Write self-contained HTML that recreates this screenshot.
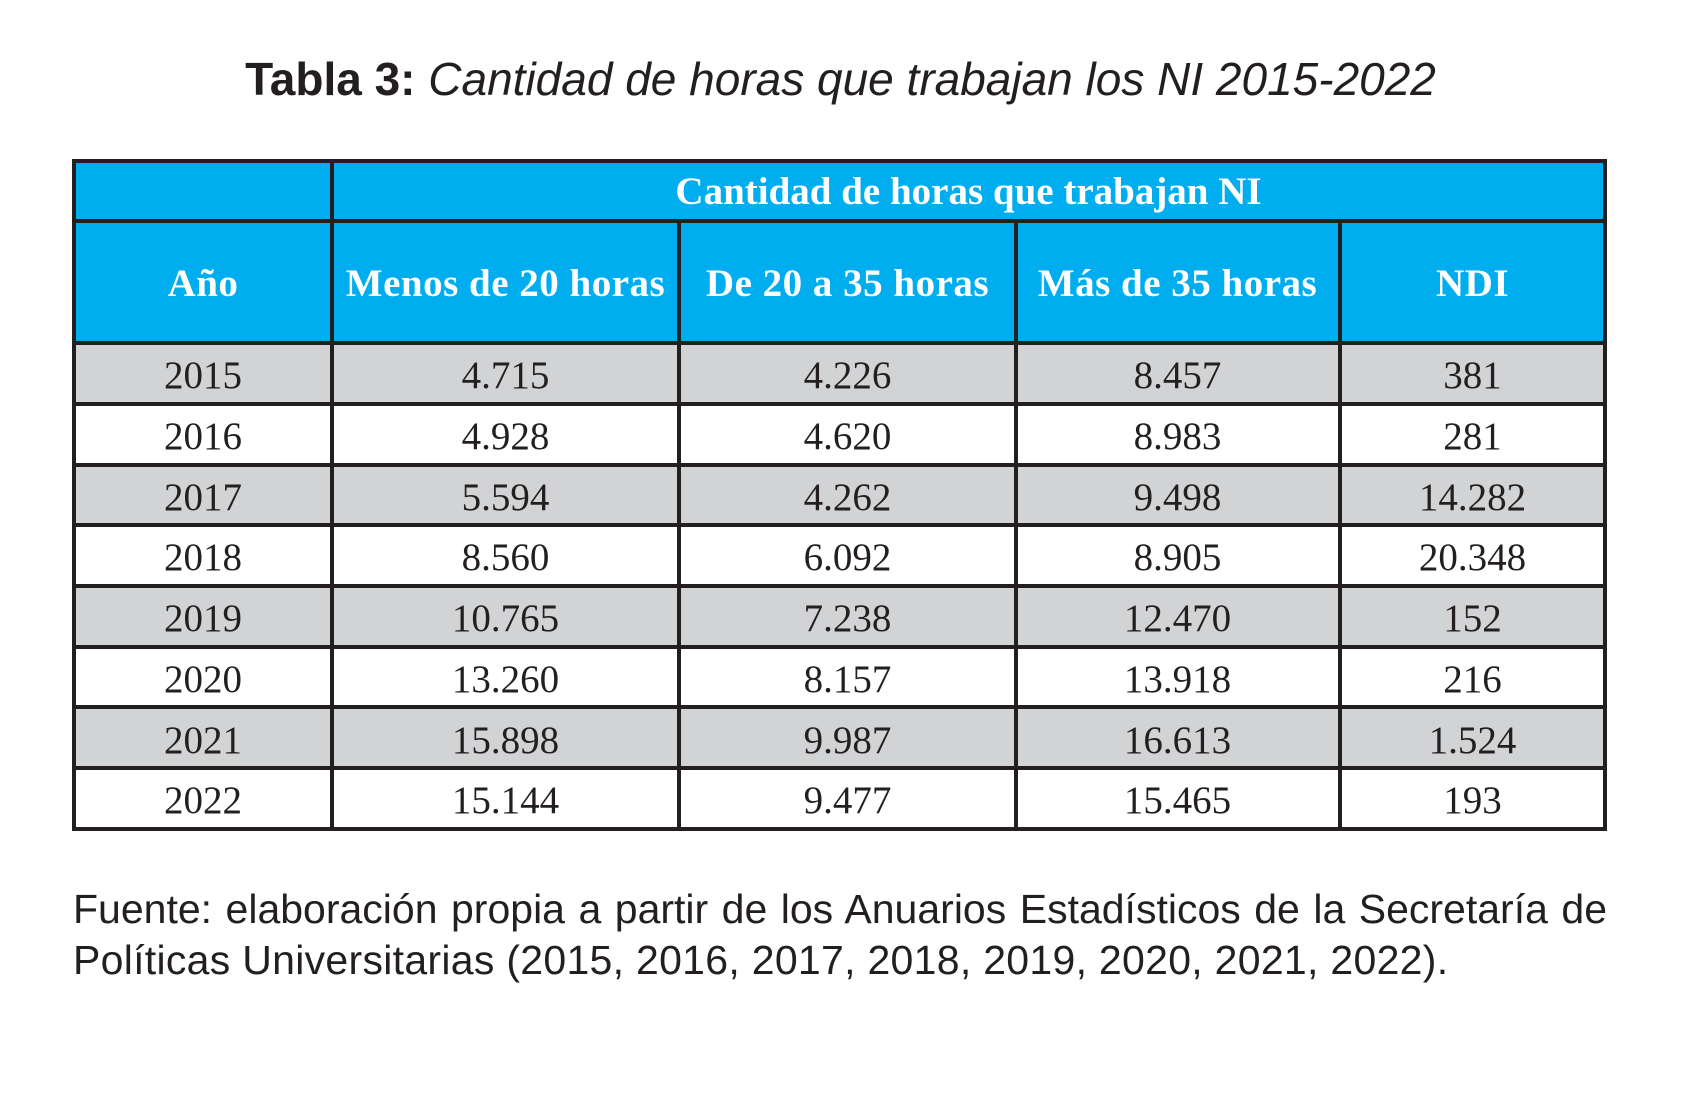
<!DOCTYPE html>
<html>
<head>
<meta charset="utf-8">
<style>
  html,body{margin:0;padding:0;background:#fff;}
  body{width:1681px;height:1104px;position:relative;overflow:hidden;}
  .abs{position:absolute;}
  .title{left:0;width:1681px;top:56px;line-height:46px;text-align:center;
    font-family:"Liberation Sans",Arial,sans-serif;font-size:46px;color:#231f20;white-space:nowrap;}
  .title b{font-weight:bold;}
  .title i{font-style:italic;}
  .bg{position:absolute;}
  .blue{background:#00aeef;}
  .grey{background:#d1d3d4;}
  .white{background:#ffffff;}
  .ln{position:absolute;background:#231f20;}
  .hd{position:absolute;text-align:center;color:#fff;font-family:"Liberation Serif","Times New Roman",serif;
    font-weight:bold;font-size:39px;white-space:nowrap;letter-spacing:0.5px;}
  .c{position:absolute;text-align:center;color:#231f20;font-family:"Liberation Serif","Times New Roman",serif;
    font-size:39px;white-space:nowrap;height:61px;line-height:61px;}
  .foot{left:73px;width:1534px;font-family:"Liberation Sans",Arial,sans-serif;font-size:41px;
    line-height:50.5px;height:50.5px;color:#231f20;white-space:nowrap;}
  .f1{top:884px;text-align:justify;text-align-last:justify;white-space:normal;}
  .f2{top:934.5px;text-align:left;letter-spacing:0.29px;}
</style>
</head>
<body>
<div class="abs title"><b>Tabla 3:</b> <i>Cantidad de horas que trabajan los NI 2015-2022</i></div>

<!-- backgrounds -->
<div class="bg blue" style="left:72px;top:160px;width:1535px;height:184px;"></div>
<div class="bg grey" style="left:72px;top:343px;width:1535px;height:61px;"></div>
<div class="bg white" style="left:72px;top:404px;width:1535px;height:61px;"></div>
<div class="bg grey" style="left:72px;top:464.5px;width:1535px;height:61px;"></div>
<div class="bg white" style="left:72px;top:525px;width:1535px;height:61px;"></div>
<div class="bg grey" style="left:72px;top:586px;width:1535px;height:61px;"></div>
<div class="bg white" style="left:72px;top:646.7px;width:1535px;height:61px;"></div>
<div class="bg grey" style="left:72px;top:707.3px;width:1535px;height:61px;"></div>
<div class="bg white" style="left:72px;top:768px;width:1535px;height:61px;"></div>

<!-- horizontal lines -->
<div class="ln" style="left:72px;top:159px;width:1535px;height:4px;"></div>
<div class="ln" style="left:72px;top:219px;width:1535px;height:4px;"></div>
<div class="ln" style="left:72px;top:341px;width:1535px;height:4px;"></div>
<div class="ln" style="left:72px;top:402px;width:1535px;height:4px;"></div>
<div class="ln" style="left:72px;top:462.5px;width:1535px;height:4px;"></div>
<div class="ln" style="left:72px;top:523px;width:1535px;height:4px;"></div>
<div class="ln" style="left:72px;top:584px;width:1535px;height:4px;"></div>
<div class="ln" style="left:72px;top:644.7px;width:1535px;height:4px;"></div>
<div class="ln" style="left:72px;top:705.3px;width:1535px;height:4px;"></div>
<div class="ln" style="left:72px;top:766px;width:1535px;height:4px;"></div>
<div class="ln" style="left:72px;top:827px;width:1535px;height:4px;"></div>

<!-- vertical lines -->
<div class="ln" style="left:72px;top:159px;width:4px;height:672px;"></div>
<div class="ln" style="left:330px;top:159px;width:4px;height:672px;"></div>
<div class="ln" style="left:677px;top:219px;width:4px;height:612px;"></div>
<div class="ln" style="left:1013.5px;top:219px;width:4px;height:612px;"></div>
<div class="ln" style="left:1338px;top:219px;width:4px;height:612px;"></div>
<div class="ln" style="left:1603px;top:159px;width:4px;height:672px;"></div>

<!-- header texts -->
<div class="hd" style="left:334px;width:1269px;top:161px;height:61px;line-height:61px;letter-spacing:0;">Cantidad de horas que trabajan NI</div>
<div class="hd" style="left:76px;width:254px;top:223px;height:122px;line-height:122px;">Año</div>
<div class="hd" style="left:334px;width:343px;top:223px;height:122px;line-height:122px;">Menos de 20 horas</div>
<div class="hd" style="left:681px;width:333px;top:223px;height:122px;line-height:122px;">De 20 a 35 horas</div>
<div class="hd" style="left:1017px;width:321px;top:223px;height:122px;line-height:122px;">Más de 35 horas</div>
<div class="hd" style="left:1342px;width:261px;top:223px;height:122px;line-height:122px;">NDI</div>

<!-- data rows -->
<div class="c" style="left:76px;width:254px;top:345px;">2015</div>
<div class="c" style="left:334px;width:343px;top:345px;">4.715</div>
<div class="c" style="left:681px;width:333px;top:345px;">4.226</div>
<div class="c" style="left:1017px;width:321px;top:345px;">8.457</div>
<div class="c" style="left:1342px;width:261px;top:345px;">381</div>

<div class="c" style="left:76px;width:254px;top:405.75px;">2016</div>
<div class="c" style="left:334px;width:343px;top:405.75px;">4.928</div>
<div class="c" style="left:681px;width:333px;top:405.75px;">4.620</div>
<div class="c" style="left:1017px;width:321px;top:405.75px;">8.983</div>
<div class="c" style="left:1342px;width:261px;top:405.75px;">281</div>

<div class="c" style="left:76px;width:254px;top:466.5px;">2017</div>
<div class="c" style="left:334px;width:343px;top:466.5px;">5.594</div>
<div class="c" style="left:681px;width:333px;top:466.5px;">4.262</div>
<div class="c" style="left:1017px;width:321px;top:466.5px;">9.498</div>
<div class="c" style="left:1342px;width:261px;top:466.5px;">14.282</div>

<div class="c" style="left:76px;width:254px;top:527.25px;">2018</div>
<div class="c" style="left:334px;width:343px;top:527.25px;">8.560</div>
<div class="c" style="left:681px;width:333px;top:527.25px;">6.092</div>
<div class="c" style="left:1017px;width:321px;top:527.25px;">8.905</div>
<div class="c" style="left:1342px;width:261px;top:527.25px;">20.348</div>

<div class="c" style="left:76px;width:254px;top:588px;">2019</div>
<div class="c" style="left:334px;width:343px;top:588px;">10.765</div>
<div class="c" style="left:681px;width:333px;top:588px;">7.238</div>
<div class="c" style="left:1017px;width:321px;top:588px;">12.470</div>
<div class="c" style="left:1342px;width:261px;top:588px;">152</div>

<div class="c" style="left:76px;width:254px;top:648.75px;">2020</div>
<div class="c" style="left:334px;width:343px;top:648.75px;">13.260</div>
<div class="c" style="left:681px;width:333px;top:648.75px;">8.157</div>
<div class="c" style="left:1017px;width:321px;top:648.75px;">13.918</div>
<div class="c" style="left:1342px;width:261px;top:648.75px;">216</div>

<div class="c" style="left:76px;width:254px;top:709.5px;">2021</div>
<div class="c" style="left:334px;width:343px;top:709.5px;">15.898</div>
<div class="c" style="left:681px;width:333px;top:709.5px;">9.987</div>
<div class="c" style="left:1017px;width:321px;top:709.5px;">16.613</div>
<div class="c" style="left:1342px;width:261px;top:709.5px;">1.524</div>

<div class="c" style="left:76px;width:254px;top:770.25px;">2022</div>
<div class="c" style="left:334px;width:343px;top:770.25px;">15.144</div>
<div class="c" style="left:681px;width:333px;top:770.25px;">9.477</div>
<div class="c" style="left:1017px;width:321px;top:770.25px;">15.465</div>
<div class="c" style="left:1342px;width:261px;top:770.25px;">193</div>

<div class="abs foot f1">Fuente: elaboración propia a partir de los Anuarios Estadísticos de la Secretaría de</div>
<div class="abs foot f2">Políticas Universitarias (2015, 2016, 2017, 2018, 2019, 2020, 2021, 2022).</div>
</body>
</html>
